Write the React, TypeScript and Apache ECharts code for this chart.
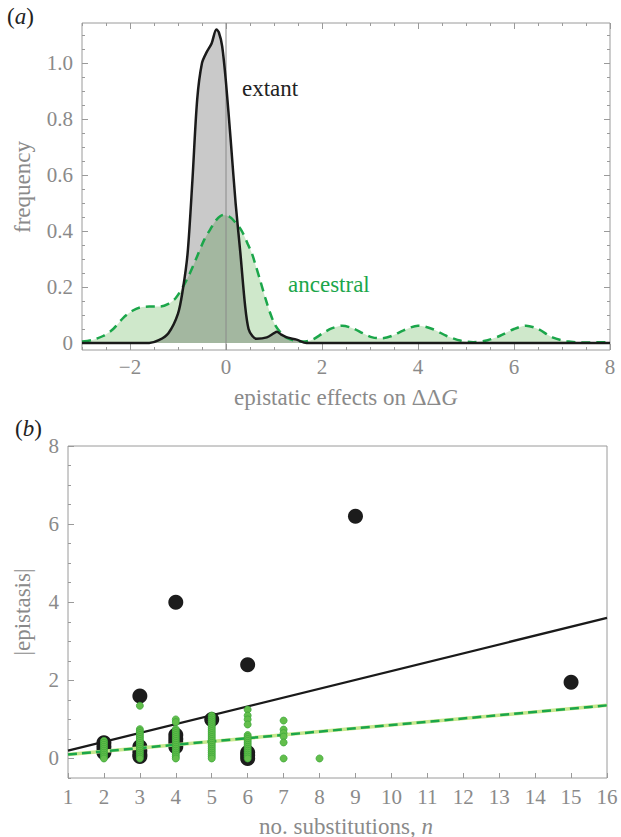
import React, { useEffect, useRef } from 'react';
import * as echarts from 'echarts';

// ---------- Panel (a): kernel density curves ----------
const extantX = [-3, -2, -1.6, -1.4, -1.2, -1.0, -0.9, -0.8, -0.7, -0.6, -0.5, -0.4, -0.3, -0.2, -0.15, -0.08, 0.0, 0.1, 0.2, 0.3, 0.4, 0.47, 0.55, 0.64, 0.85, 1.0, 1.06, 1.15, 1.27, 1.47, 1.68, 3, 8];
const extantY = [0, 0, 0, 0.01, 0.035, 0.105, 0.19, 0.32, 0.58, 0.87, 1.0, 1.04, 1.07, 1.12, 1.11, 1.06, 0.93, 0.72, 0.5, 0.32, 0.13, 0.05, 0.025, 0.015, 0.02, 0.035, 0.04, 0.03, 0.02, 0.012, 0, 0, 0];

const ancestralX = [-3, -2.8, -2.56, -2.35, -2.14, -1.95, -1.79, -1.6, -1.375, -1.2, -1.05, -0.9, -0.75, -0.6, -0.45, -0.33, -0.2, -0.06, 0.08, 0.2, 0.33, 0.45, 0.54, 0.63, 0.71, 0.82, 0.92, 1.02, 1.125, 1.25, 1.4, 1.6, 1.8, 2.02, 2.2, 2.42, 2.65, 2.85, 3.05, 3.25, 3.45, 3.7, 4.0, 4.3, 4.6, 4.9, 5.15, 5.45, 5.7, 6.0, 6.25, 6.5, 6.8, 7.1, 7.4, 8];
const ancestralY = [0.005, 0.01, 0.025, 0.05, 0.09, 0.115, 0.127, 0.13, 0.13, 0.14, 0.16, 0.2, 0.25, 0.31, 0.37, 0.405, 0.44, 0.457, 0.45, 0.43, 0.4, 0.355, 0.32, 0.27, 0.225, 0.16, 0.107, 0.065, 0.04, 0.02, 0.01, 0.005, 0.012, 0.035, 0.052, 0.062, 0.052, 0.035, 0.02, 0.017, 0.025, 0.045, 0.062, 0.05, 0.025, 0.008, 0.003, 0.01, 0.025, 0.05, 0.062, 0.05, 0.02, 0.006, 0.002, 0.003];

const aXLabels = [-2, 0, 2, 4, 6, 8];
const aXMinor = [-3, -2.5, -2, -1.5, -1, -0.5, 0, 0.5, 1, 1.5, 2, 2.5, 3, 3.5, 4, 4.5, 5, 5.5, 6, 6.5, 7, 7.5, 8];
const aYLabels = [0, 0.2, 0.4, 0.6, 0.8, 1.0];
const aYMinor = [0, 0.05, 0.1, 0.15, 0.2, 0.25, 0.3, 0.35, 0.4, 0.45, 0.5, 0.55, 0.6, 0.65, 0.7, 0.75, 0.8, 0.85, 0.9, 0.95, 1.0, 1.05, 1.1];

// ---------- Panel (b): |epistasis| vs number of substitutions ----------
const extantPointsN = [2, 2, 2, 2, 3, 3, 3, 3, 4, 4, 4, 4, 5, 6, 6, 6, 3, 4, 6, 9, 15];
const extantPointsE = [0.4, 0.3, 0.2, 0.15, 0.3, 0.2, 0.1, 0.05, 0.6, 0.5, 0.4, 0.3, 1.0, 0.15, 0.08, 0.0, 1.6, 4.0, 2.4, 6.2, 1.95];

const anc2 = [0.45, 0.4, 0.35, 0.3, 0.25, 0.2, 0.15, 0.1, 0.05, 0];
const anc3 = [1.35, 0.75, 0.7, 0.65, 0.6, 0.55, 0.5, 0.45, 0.4, 0.35, 0.3, 0.25, 0.2, 0.15, 0.1, 0.05, 0];
const anc4 = [1.0, 0.93, 0.75, 0.7, 0.65, 0.6, 0.55, 0.5, 0.45, 0.4, 0.35, 0.3, 0.25, 0.2, 0.15, 0.1, 0.05, 0];
const anc5 = [1.1, 1.05, 1.0, 0.95, 0.9, 0.85, 0.8, 0.75, 0.7, 0.65, 0.6, 0.55, 0.5, 0.45, 0.4, 0.35, 0.3, 0.25, 0.2, 0.15, 0.1, 0.05, 0];
const anc6 = [1.25, 1.1, 1.0, 0.87, 0.6, 0.55, 0.5, 0.45, 0.4, 0.35, 0.3, 0.25, 0.2, 0.15, 0.1, 0.05, 0];
const anc7 = [0.97, 0.74, 0.65, 0.56, 0.41, 0.0];
const anc8 = [0.0];

const extantFitN = [1, 16];
const extantFitE = [0.2, 3.6];
const ancestralFitN = [1, 16];
const ancestralFitE = [0.1, 1.36];

const bYLabels = [0, 2, 4, 6, 8];
const bYMinor = [-0.5, 0.5, 1, 1.5, 2.5, 3, 3.5, 4.5, 5, 5.5, 6.5, 7, 7.5];

const FONT = 'Liberation Serif, Times New Roman, DejaVu Serif, serif';
const GRAY = '#8a8a8a';
const FRAME = '#9a9a9a';
const GREEN = '#1ba64a';
const TICK_FS = 21;
const TITLE_FS = 23;

function zip(xs: number[], ys: number[]) {
  return xs.map((x, i) => [x, ys[i]]);
}

export default function App() {
  const ref = useRef<HTMLDivElement>(null);
  useEffect(() => {
    const chart = echarts.init(ref.current!, null, { renderer: 'svg' });

    const labelStyle = { color: GRAY, fontFamily: FONT, fontSize: TICK_FS };
    const ancPts: number[][] = [];
    [anc2, anc3, anc4, anc5, anc6, anc7, anc8].forEach((arr, k) => {
      arr.forEach((v) => ancPts.push([k + 2, v]));
    });

    const tickAxis = (extra: any) => ({
      type: 'value',
      splitLine: { show: false },
      axisLine: { show: false, onZero: false },
      axisLabel: { show: false },
      ...extra,
    });

    const richText = (size: number, fill: string) => ({
      i: { fontStyle: 'italic', fontFamily: FONT, fontSize: size, fill },
    });

    const option: any = {
      animation: false,
      textStyle: { fontFamily: FONT },
      grid: [
        { left: 82, right: 11, top: 23, height: 327, show: true, borderColor: FRAME, borderWidth: 1, containLabel: false },
        { left: 68, right: 14, top: 446, height: 332, show: true, borderColor: FRAME, borderWidth: 1, containLabel: false },
      ],
      xAxis: [
        tickAxis({
          gridIndex: 0, position: 'bottom', min: -3, max: 8,
          axisTick: { inside: true, length: 6, lineStyle: { color: FRAME }, customValues: aXLabels },
          axisLabel: { show: true, ...labelStyle, margin: 6, customValues: aXLabels, formatter: (v: number) => String(v).replace('-', '\u2212') },
        }),
        tickAxis({ gridIndex: 0, position: 'bottom', min: -3, max: 8, axisTick: { inside: true, length: 3, lineStyle: { color: FRAME }, customValues: aXMinor } }),
        tickAxis({ gridIndex: 0, position: 'top', min: -3, max: 8, axisTick: { inside: true, length: 6, lineStyle: { color: FRAME }, customValues: aXLabels } }),
        tickAxis({ gridIndex: 0, position: 'top', min: -3, max: 8, axisTick: { inside: true, length: 3, lineStyle: { color: FRAME }, customValues: aXMinor } }),
        tickAxis({
          gridIndex: 1, position: 'bottom', min: 1, max: 16, interval: 1,
          axisTick: { inside: true, length: 5, lineStyle: { color: FRAME } },
          axisLabel: { show: true, ...labelStyle, margin: 8 },
        }),
      ],
      yAxis: [
        tickAxis({
          gridIndex: 0, position: 'left', min: -0.025, max: 1.143,
          axisTick: { inside: true, length: 6, lineStyle: { color: FRAME }, customValues: aYLabels },
          axisLabel: { show: true, ...labelStyle, margin: 9, customValues: aYLabels, formatter: (v: number) => (v === 0 ? '0' : v.toFixed(1)) },
        }),
        tickAxis({ gridIndex: 0, position: 'left', min: -0.025, max: 1.143, axisTick: { inside: true, length: 3, lineStyle: { color: FRAME }, customValues: aYMinor } }),
        tickAxis({ gridIndex: 0, position: 'right', min: -0.025, max: 1.143, axisTick: { inside: true, length: 6, lineStyle: { color: FRAME }, customValues: aYLabels } }),
        tickAxis({ gridIndex: 0, position: 'right', min: -0.025, max: 1.143, axisTick: { inside: true, length: 3, lineStyle: { color: FRAME }, customValues: aYMinor } }),
        tickAxis({
          gridIndex: 1, position: 'left', min: -0.5, max: 8,
          axisTick: { inside: true, length: 6, lineStyle: { color: FRAME }, customValues: bYLabels },
          axisLabel: { show: true, ...labelStyle, margin: 9, customValues: bYLabels },
        }),
        tickAxis({ gridIndex: 1, position: 'left', min: -0.5, max: 8, axisTick: { inside: true, length: 3, lineStyle: { color: FRAME }, customValues: bYMinor } }),
      ],
      series: [
        {
          type: 'line', xAxisIndex: 0, yAxisIndex: 0, data: zip(ancestralX, ancestralY), smooth: 0.3,
          showSymbol: false, lineStyle: { width: 0, opacity: 0 }, areaStyle: { color: '#cfe8cb', opacity: 1 }, z: 1,
        },
        {
          type: 'line', xAxisIndex: 0, yAxisIndex: 0, data: zip(extantX, extantY), smooth: 0.3,
          showSymbol: false, lineStyle: { width: 0, opacity: 0 }, areaStyle: { color: 'rgba(0,0,0,0.21)', opacity: 1 }, z: 2,
        },
        {
          type: 'line', xAxisIndex: 0, yAxisIndex: 0, data: [[0, -0.025], [0, 1.143]],
          showSymbol: false, lineStyle: { width: 1, color: '#8a8a8a' }, z: 3,
        },
        {
          type: 'line', xAxisIndex: 0, yAxisIndex: 0, data: zip(ancestralX, ancestralY), smooth: 0.3,
          showSymbol: false, lineStyle: { width: 2.5, color: GREEN, type: [9, 6] }, z: 4,
        },
        {
          type: 'line', xAxisIndex: 0, yAxisIndex: 0, data: zip(extantX, extantY), smooth: 0.3,
          showSymbol: false, lineStyle: { width: 2.5, color: '#1a1a1a' }, z: 5,
        },
        {
          type: 'scatter', xAxisIndex: 4, yAxisIndex: 4, data: zip(extantPointsN, extantPointsE),
          symbolSize: 15, itemStyle: { color: '#1c1c1c', opacity: 1 }, z: 2,
        },
        {
          type: 'line', xAxisIndex: 4, yAxisIndex: 4, data: zip(extantFitN, extantFitE),
          showSymbol: false, lineStyle: { width: 2.2, color: '#1a1a1a' }, z: 3,
        },
        {
          type: 'line', xAxisIndex: 4, yAxisIndex: 4, data: zip(ancestralFitN, ancestralFitE),
          showSymbol: false, lineStyle: { width: 3.5, color: '#c8e88e' }, z: 3,
        },
        {
          type: 'line', xAxisIndex: 4, yAxisIndex: 4, data: zip(ancestralFitN, ancestralFitE),
          showSymbol: false, lineStyle: { width: 2.5, color: GREEN, type: [9, 5] }, z: 4,
        },
        {
          type: 'scatter', xAxisIndex: 4, yAxisIndex: 4, data: ancPts,
          symbolSize: 7, itemStyle: { color: '#63be4b', borderColor: '#3ea83a', borderWidth: 0.8, opacity: 1 }, z: 5,
        },
      ],
      graphic: [
        { type: 'text', left: 7, top: 5, style: { text: '({i|a})', fontFamily: FONT, fontSize: TITLE_FS, fill: '#222', rich: richText(TITLE_FS, '#222') } },
        { type: 'text', left: 15, top: 417, style: { text: '({i|b})', fontFamily: FONT, fontSize: TITLE_FS, fill: '#222', rich: richText(TITLE_FS, '#222') } },
        { type: 'text', x: 22, y: 187, rotation: Math.PI / 2, style: { text: 'frequency', fontFamily: FONT, fontSize: TITLE_FS, fill: GRAY, align: 'center', verticalAlign: 'middle' } },
        { type: 'text', x: 22, y: 612, rotation: Math.PI / 2, style: { text: '|epistasis|', fontFamily: FONT, fontSize: TITLE_FS, fill: GRAY, align: 'center', verticalAlign: 'middle' } },
        { type: 'text', x: 346, y: 397, style: { text: 'epistatic effects on \u0394\u0394{i|G}', fontFamily: FONT, fontSize: TITLE_FS, fill: GRAY, align: 'center', verticalAlign: 'middle', rich: richText(TITLE_FS, GRAY) } },
        { type: 'text', x: 346, y: 826, style: { text: 'no. substitutions, {i|n}', fontFamily: FONT, fontSize: TITLE_FS, fill: GRAY, align: 'center', verticalAlign: 'middle', rich: richText(TITLE_FS, GRAY) } },
        { type: 'text', x: 242, y: 88, style: { text: 'extant', fontFamily: FONT, fontSize: TITLE_FS, fill: '#222', align: 'left', verticalAlign: 'middle' } },
        { type: 'text', x: 288, y: 284, style: { text: 'ancestral', fontFamily: FONT, fontSize: TITLE_FS, fill: GREEN, align: 'left', verticalAlign: 'middle' } },
      ],
    };
    chart.setOption(option);
    return () => chart.dispose();
  }, []);
  return <div ref={ref} style={{ position: 'absolute', left: 0, top: 0, width: 621, height: 837 }} />;
}
